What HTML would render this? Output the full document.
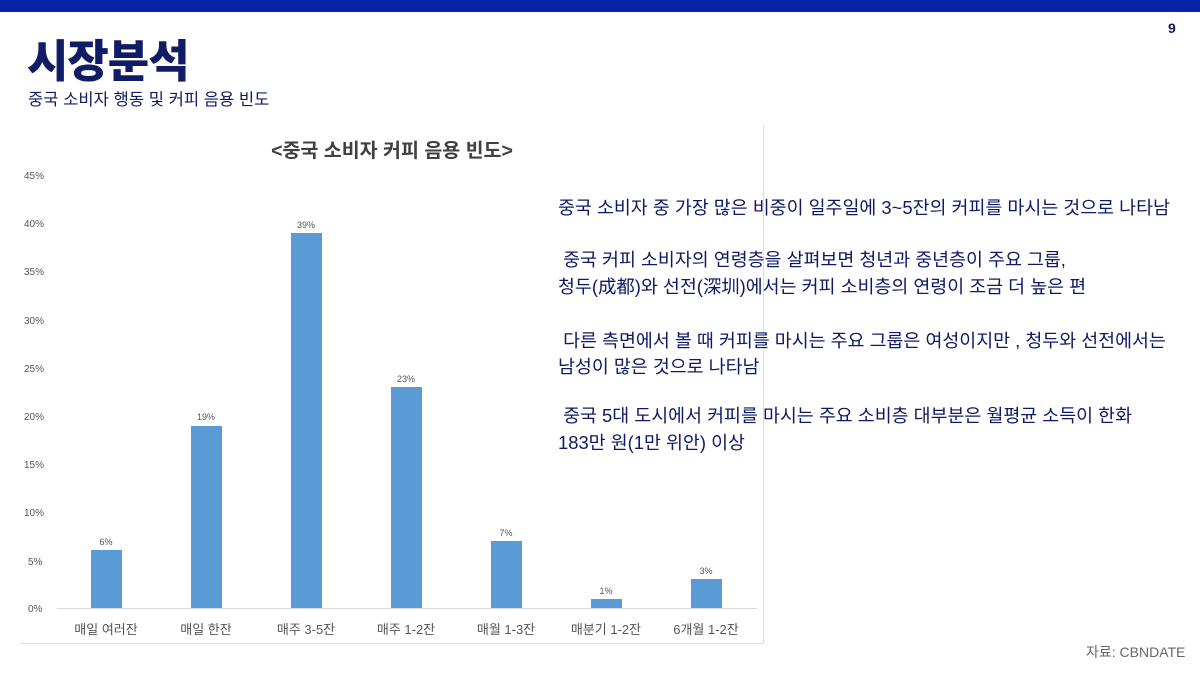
<!DOCTYPE html>
<html><head><meta charset="utf-8"><style>
body{margin:0;width:1200px;height:675px;background:#fff;position:relative;overflow:hidden;font-family:"Liberation Sans","Noto Sans CJK KR",sans-serif}
.a{position:absolute;white-space:nowrap}
.t{color:#0f1a66;font-size:18.4px;left:558px}
</style></head><body>
<div class="a" style="left:0;top:0;width:1200px;height:12px;background:#0624a6"></div>
<div class="a" style="left:1168px;top:20px;font-size:14px;font-weight:bold;color:#0f1a66">9</div>
<div class="a" style="left:27px;top:25px;font-size:45px;font-weight:900;color:#111c66;letter-spacing:-1px">시장분석</div>
<div class="a" style="left:28px;top:86px;font-size:16.6px;color:#111c66">중국 소비자 행동 및 커피 음용 빈도</div>
<div class="a" style="left:20px;top:125px;width:743px;height:518px;border-right:1px solid #ddd;border-bottom:1px solid #ddd"></div>
<svg class="a" style="left:0;top:0" width="780" height="660">
<text x="392" y="157" font-size="19.5" font-weight="bold" fill="#404040" text-anchor="middle" font-family="Liberation Sans,Noto Sans CJK KR,sans-serif">&lt;중국 소비자 커피 음용 빈도&gt;</text>
<g font-size="10" fill="#555" font-family="Liberation Sans,sans-serif">
<text x="24" y="179">45%</text><text x="24" y="227">40%</text><text x="24" y="275">35%</text><text x="24" y="324">30%</text><text x="24" y="372">25%</text><text x="24" y="420">20%</text><text x="24" y="468">15%</text><text x="24" y="516">10%</text><text x="28" y="565">5%</text><text x="28" y="612">0%</text>
</g>
<line x1="57" y1="608.5" x2="757" y2="608.5" stroke="#d9d9d9"/>
<g fill="#5b9bd5">
<rect x="91" y="550" width="31" height="58"/>
<rect x="191" y="426" width="31" height="182"/>
<rect x="291" y="233" width="31" height="375"/>
<rect x="391" y="387" width="31" height="221"/>
<rect x="491" y="541" width="31" height="67"/>
<rect x="591" y="599" width="31" height="9"/>
<rect x="691" y="579" width="31" height="29"/>
</g>
<g font-size="9" fill="#555" text-anchor="middle" font-family="Liberation Sans,sans-serif">
<text x="106" y="545">6%</text><text x="206" y="420">19%</text><text x="306" y="228">39%</text><text x="406" y="382">23%</text><text x="506" y="536">7%</text><text x="606" y="594">1%</text><text x="706" y="574">3%</text>
</g>
<g font-size="13" fill="#555" text-anchor="middle" font-family="Liberation Sans,Noto Sans CJK KR,sans-serif">
<text x="106" y="634">매일 여러잔</text><text x="206" y="634">매일 한잔</text><text x="306" y="634">매주 3-5잔</text><text x="406" y="634">매주 1-2잔</text><text x="506" y="634">매월 1-3잔</text><text x="606" y="634">매분기 1-2잔</text><text x="706" y="634">6개월 1-2잔</text>
</g>
</svg>
<div class="a t" style="top:194px">중국 소비자 중 가장 많은 비중이 일주일에 3~5잔의 커피를 마시는 것으로 나타남</div>
<div class="a t" style="top:246px">&nbsp;중국 커피 소비자의 연령층을 살펴보면 청년과 중년층이 주요 그룹,</div>
<div class="a t" style="top:273px">청두(成都)와 선전(深圳)에서는 커피 소비층의 연령이 조금 더 높은 편</div>
<div class="a t" style="top:327px">&nbsp;다른 측면에서 볼 때 커피를 마시는 주요 그룹은 여성이지만 , 청두와 선전에서는</div>
<div class="a t" style="top:353px">남성이 많은 것으로 나타남</div>
<div class="a t" style="top:402px">&nbsp;중국 5대 도시에서 커피를 마시는 주요 소비층 대부분은 월평균 소득이 한화</div>
<div class="a t" style="top:429px">183만 원(1만 위안) 이상</div>
<div class="a" style="left:1086px;top:642px;font-size:14px;color:#666">자료: CBNDATE</div>
</body></html>
